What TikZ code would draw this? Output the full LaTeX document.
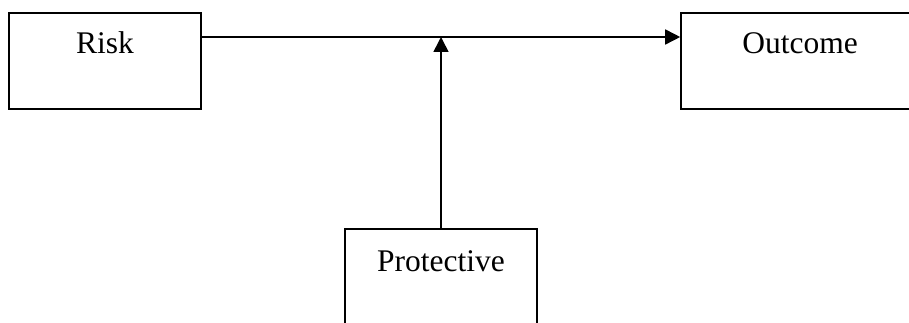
\documentclass[tikz,border=0pt]{standalone}
\usepackage{fontspec}
\setmainfont{Liberation Serif}
\usetikzlibrary{arrows.meta}
\begin{document}
\begin{tikzpicture}[x=1pt,y=1pt,
  box/.style={draw, line width=1.6pt, inner sep=0pt,
    font=\fontsize{31.5}{36}\selectfont, minimum width=192pt, minimum height=96pt},
  link/.style={line width=1.6pt, -{Triangle[length=15pt,width=15pt]}}]
  \useasboundingbox (0,0) rectangle (909,322);
  % the three boxes, with their words set near the top
  \node[box, text height=41pt, text depth=55pt] (risk) at (105,261) {Risk};
  \node[box, minimum width=238pt, text height=41pt, text depth=55pt] (outcome) at (800,261) {Outcome};
  \node[box, text height=42pt, text depth=54pt] (protective) at (441,45) {Protective};
  % point where the moderating arrow meets the main path
  \coordinate (mid) at (441,285);
  \draw[link] (risk.east |- mid) -- (outcome.west |- mid);
  \draw[link] (protective.north) -- (mid);
\end{tikzpicture}
\end{document}
